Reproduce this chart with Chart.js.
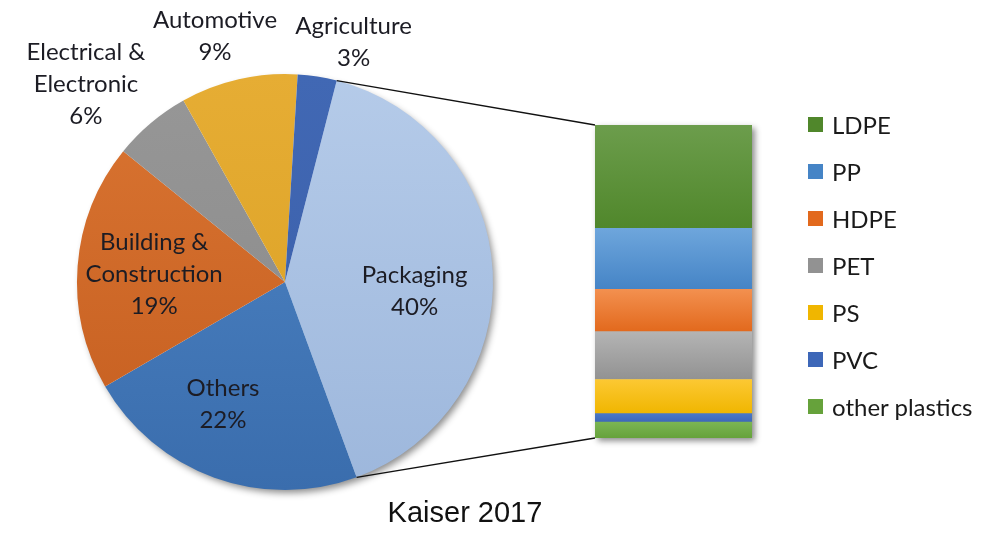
<!DOCTYPE html>
<html>
<head>
<meta charset="utf-8">
<script src="https://cdn.jsdelivr.net/npm/chart.js@4/dist/chart.umd.min.js"></script>
<style>
  body { margin: 0; background: #fff; }
  #wrap { position: relative; width: 994px; height: 536px; overflow: hidden; }
  #wrap canvas { position: absolute; left: 0; top: 0; }
  #barChart { pointer-events: none; }
  #legend { position: absolute; left: 808px; top: 109px; font-family: Lato, "Open Sans", sans-serif; font-size: 24px; color: #1a1a1a; }
  #legend div { display: flex; align-items: center; height: 30px; margin-bottom: 17px; white-space: nowrap; }
  #legend span.box { display: inline-block; width: 15px; height: 15px; margin-right: 9px; }
  #caption { position: absolute; left: 0; width: 930px; top: 496px; text-align: center; font-family: "Liberation Sans", Arial, sans-serif; font-size: 29px; color: #111; }
</style>
</head>
<body>
<div id="wrap">
  <canvas id="pieChart" width="994" height="536"></canvas>
  <canvas id="barChart" width="994" height="536"></canvas>
  <div id="legend"></div>
  <div id="caption">Kaiser 2017</div>
</div>
<script>
// sectors, clockwise from Packaging
const sectors = ["Packaging", "Others", "Building & Construction", "Electrical & Electronic", "Automotive", "Agriculture"];
const sectorLines = [["Packaging"], ["Others"], ["Building &", "Construction"], ["Electrical &", "Electronic"], ["Automotive"], ["Agriculture"]];
const sectorShare = [40, 22, 19, 6, 9, 3];
const sectorColors = [["#b5cbe9", "#9db7dc"], ["#4f86c6", "#3a6dad"], ["#da7532", "#c45d1f"], ["#979797", "#888888"], ["#e6ad34", "#d99f22"], ["#4168b4", "#3a5ea8"]];

// packaging split by polymer (bottom to top of the stack)
const polymers = ["other plastics", "PVC", "PS", "PET", "HDPE", "PP", "LDPE"];
const polymerShare = [5.1, 2.7, 10.9, 15.3, 13.5, 19.5, 33.0];
const polymerColors = [["#7bb553", "#66a23b"], ["#4a78c8", "#3d67b8"], ["#fcc833", "#f0b600"], ["#b4b4b4", "#929292"], ["#f3904f", "#e2691d"], ["#6ea6dc", "#4584c6"], ["#6c9d4c", "#50872b"]];

// label placement around each slice: radius factor and angle nudge (deg)
const labelPlace = [[0.625, 7], [0.66, 7], [0.63, -1], [1.35, -5], [1.23, -3], [1.2, 7]];

const fontLabel = '24px Lato, "Open Sans", sans-serif';

function vGrad(ctx, top, bottom, c) {
  const g = ctx.createLinearGradient(0, top, 0, bottom);
  g.addColorStop(0, c[0]);
  g.addColorStop(1, c[1]);
  return g;
}

const pieShadow = {
  id: "pieShadow",
  beforeDatasetsDraw(chart) {
    const arc = chart.getDatasetMeta(0).data[0];
    const ctx = chart.ctx;
    ctx.save();
    ctx.shadowColor = "rgba(0,0,0,0.45)";
    ctx.shadowBlur = 7;
    ctx.shadowOffsetX = 3;
    ctx.shadowOffsetY = 4;
    ctx.fillStyle = "#fff";
    ctx.beginPath();
    ctx.arc(arc.x, arc.y, arc.outerRadius - 1, 0, Math.PI * 2);
    ctx.fill();
    ctx.restore();
  }
};

const pieLabels = {
  id: "pieLabels",
  afterDatasetsDraw(chart) {
    const ctx = chart.ctx;
    const meta = chart.getDatasetMeta(0);
    ctx.save();
    ctx.font = fontLabel;
    ctx.fillStyle = "#1c1c24";
    ctx.textAlign = "center";
    ctx.textBaseline = "middle";
    meta.data.forEach((arc, i) => {
      const mid = (arc.startAngle + arc.endAngle) / 2 + labelPlace[i][1] * Math.PI / 180;
      const r = arc.outerRadius * labelPlace[i][0];
      const cx = arc.x + r * Math.cos(mid);
      const cy = arc.y + r * Math.sin(mid);
      const lines = sectorLines[i].concat([sectorShare[i] + "%"]);
      const lh = 32;
      lines.forEach((t, k) => {
        ctx.fillText(t, cx, cy + (k - (lines.length - 1) / 2) * lh);
      });
    });
    ctx.restore();
  }
};

const pieChart = new Chart(document.getElementById("pieChart"), {
  type: "pie",
  data: {
    labels: sectors,
    datasets: [{
      data: sectorShare,
      borderWidth: 0,
      backgroundColor: (c) => {
        const a = c.chart.chartArea;
        if (!a) return sectorColors[c.dataIndex][0];
        return vGrad(c.chart.ctx, a.top, a.bottom, sectorColors[c.dataIndex]);
      }
    }]
  },
  options: {
    responsive: false,
    animation: false,
    rotation: 14.4,
    layout: { padding: { left: 77, top: 74, right: 501, bottom: 46 } },
    plugins: { legend: { display: false }, tooltip: { enabled: false } }
  },
  plugins: [pieShadow, pieLabels]
});

const barShadow = {
  id: "barShadow",
  beforeDatasetsDraw(chart) {
    const a = chart.chartArea;
    const ctx = chart.ctx;
    ctx.save();
    ctx.shadowColor = "rgba(0,0,0,0.45)";
    ctx.shadowBlur = 6;
    ctx.shadowOffsetX = 3;
    ctx.shadowOffsetY = 3;
    ctx.fillStyle = "#fff";
    ctx.fillRect(a.left, a.top, a.right - a.left, a.bottom - a.top);
    ctx.restore();
  }
};

// lines joining the Packaging slice to the stacked bar
const connectors = {
  id: "connectors",
  afterDraw(chart) {
    const arc = pieChart.getDatasetMeta(0).data[0];
    const n = chart.data.datasets.length;
    const topBar = chart.getDatasetMeta(n - 1).data[0];
    const botBar = chart.getDatasetMeta(0).data[0];
    const left = topBar.x - topBar.width / 2;
    const ctx = chart.ctx;
    ctx.save();
    ctx.strokeStyle = "#111";
    ctx.lineWidth = 1.3;
    ctx.beginPath();
    ctx.moveTo(arc.x + arc.outerRadius * Math.cos(arc.startAngle), arc.y + arc.outerRadius * Math.sin(arc.startAngle));
    ctx.lineTo(left, topBar.y);
    ctx.moveTo(arc.x + arc.outerRadius * Math.cos(arc.endAngle), arc.y + arc.outerRadius * Math.sin(arc.endAngle));
    ctx.lineTo(left, botBar.base);
    ctx.stroke();
    ctx.restore();
  }
};

new Chart(document.getElementById("barChart"), {
  type: "bar",
  data: {
    labels: ["Packaging"],
    datasets: polymers.map((p, i) => ({
      label: p,
      data: [polymerShare[i]],
      borderWidth: 0,
      backgroundColor: (c) => {
        const y = c.chart.scales.y;
        if (!y || !c.chart.chartArea) return polymerColors[i][0];
        const below = polymerShare.slice(0, i).reduce((s, v) => s + v, 0);
        return vGrad(c.chart.ctx, y.getPixelForValue(below + polymerShare[i]), y.getPixelForValue(below), polymerColors[i]);
      }
    }))
  },
  options: {
    responsive: false,
    animation: false,
    layout: { padding: { left: 595, top: 125, right: 242, bottom: 98 } },
    datasets: { bar: { barPercentage: 1, categoryPercentage: 1 } },
    scales: {
      x: { stacked: true, display: false },
      y: { stacked: true, display: false, min: 0, max: 100 }
    },
    plugins: { legend: { display: false }, tooltip: { enabled: false } }
  },
  plugins: [barShadow, connectors]
});

// legend, top of the stack first
const legend = document.getElementById("legend");
for (let i = polymers.length - 1; i >= 0; i--) {
  const row = document.createElement("div");
  const box = document.createElement("span");
  box.className = "box";
  box.style.background = polymerColors[i][1];
  row.appendChild(box);
  row.appendChild(document.createTextNode(polymers[i]));
  legend.appendChild(row);
}
</script>
</body>
</html>
